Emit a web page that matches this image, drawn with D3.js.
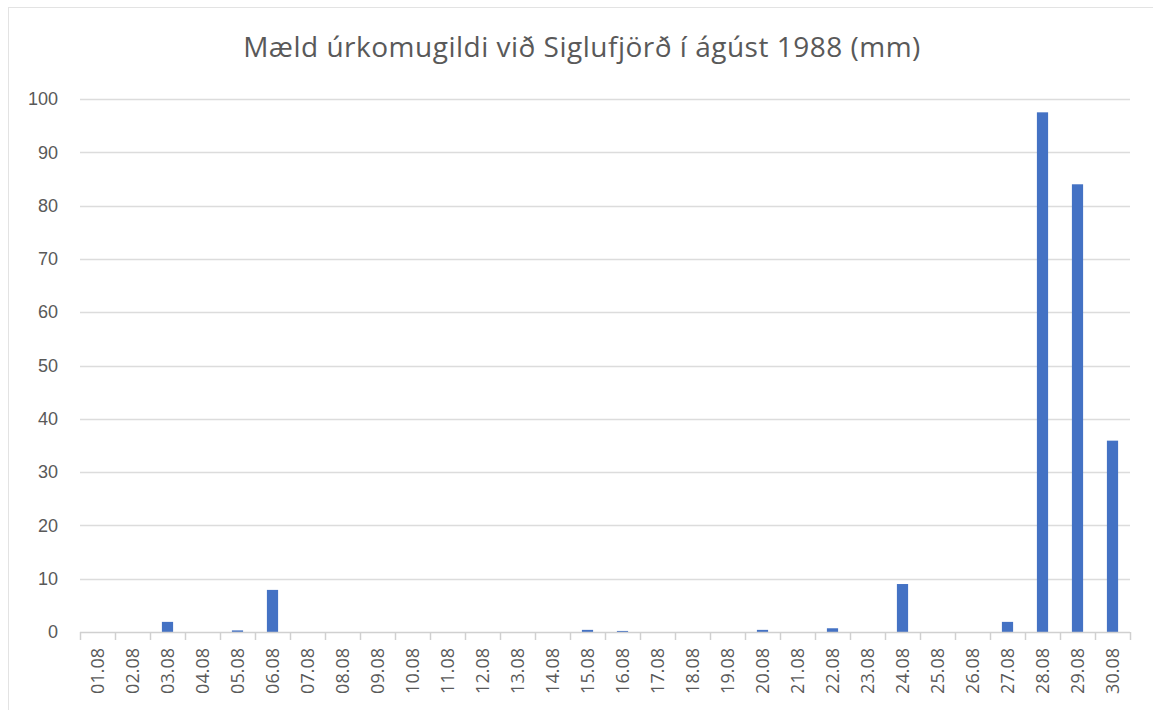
<!DOCTYPE html>
<html>
<head>
<meta charset="utf-8">
<script src="https://cdn.jsdelivr.net/npm/d3@7"></script>
<style>
  body { margin: 0; background: #fff; }
  svg { font-family: "Open Sans", Lato, sans-serif; }
  .axis text { fill: #595959; }
</style>
</head>
<body>
<svg id="chart" width="1153" height="710"></svg>
<script>
// Data
var days = ["01.08","02.08","03.08","04.08","05.08","06.08","07.08","08.08","09.08","10.08",
            "11.08","12.08","13.08","14.08","15.08","16.08","17.08","18.08","19.08","20.08",
            "21.08","22.08","23.08","24.08","25.08","26.08","27.08","28.08","29.08","30.08"];
var rain = [0, 0, 1.9, 0, 0.3, 7.9, 0, 0, 0, 0,
            0, 0, 0, 0, 0.4, 0.2, 0, 0, 0, 0.4,
            0, 0.7, 0, 9.0, 0, 0, 1.9, 97.5, 84.0, 35.9];
var yTicks = [0, 10, 20, 30, 40, 50, 60, 70, 80, 90, 100];
var title = "Mæld úrkomugildi við Siglufjörð í ágúst 1988 (mm)";

var svg = d3.select("#chart"),
    margin = {top: 99, right: 23, bottom: 78, left: 80},
    width = +svg.attr("width") - margin.left - margin.right,
    height = +svg.attr("height") - margin.top - margin.bottom;

// chart frame
svg.append("rect")
    .attr("x", 8.5).attr("y", 7.5)
    .attr("width", 1160).attr("height", 720)
    .attr("fill", "#fff")
    .attr("stroke", "#e3e3e3");

svg.append("text")
    .attr("x", 582).attr("y", 57)
    .attr("text-anchor", "middle")
    .attr("fill", "#595959")
    .style("font-size", "28px")
    .style("letter-spacing", "0.5px")
    .text(title);

var g = svg.append("g").attr("transform", "translate(" + margin.left + "," + margin.top + ")");

var x = d3.scaleBand().domain(days).range([0, width]).paddingInner(0.68).paddingOuter(0.34);
var y = d3.scaleLinear().domain([0, 100]).range([height, 0]);

// gridlines
g.selectAll(".grid")
  .data(yTicks.slice(1))
  .enter().append("line")
    .attr("class", "grid")
    .attr("x1", 0).attr("x2", width)
    .attr("y1", function(d) { return Math.round(y(d)) + 0.5; })
    .attr("y2", function(d) { return Math.round(y(d)) + 0.5; })
    .attr("stroke", "#dcdcdc")
    .attr("stroke-width", 1.5);

// bars
g.selectAll(".bar")
  .data(rain)
  .enter().append("rect")
    .attr("class", "bar")
    .attr("x", function(d, i) { return x(days[i]); })
    .attr("y", function(d) { return y(d); })
    .attr("width", x.bandwidth())
    .attr("height", function(d) { return height - y(d); })
    .attr("fill", "#4472c4");

// y axis
var yAxis = g.append("g")
    .attr("class", "axis")
    .call(d3.axisLeft(y).tickValues(yTicks).tickSize(0).tickPadding(22));
yAxis.select(".domain").remove();
yAxis.selectAll("text").style("font-size", "18px");

// x axis: line + ticks at band edges
var xg = g.append("g")
    .attr("class", "axis")
    .attr("transform", "translate(0," + height + ")");
xg.append("line")
    .attr("x1", 0).attr("x2", width)
    .attr("y1", 0.5).attr("y2", 0.5)
    .attr("stroke", "#d0d0d0").attr("stroke-width", 1.5);
var step = x.step();
xg.selectAll(".tick-line")
  .data(d3.range(days.length + 1))
  .enter().append("line")
    .attr("x1", function(i) { return Math.round(i * step) + 0.5; })
    .attr("x2", function(i) { return Math.round(i * step) + 0.5; })
    .attr("y1", 0).attr("y2", 8)
    .attr("stroke", "#d0d0d0").attr("stroke-width", 1.5);
xg.selectAll(".xlab")
  .data(days)
  .enter().append("text")
    .attr("transform", function(d) { return "translate(" + (x(d) + x.bandwidth() / 2) + ",16) rotate(-90)"; })
    .attr("dy", "0.35em")
    .attr("text-anchor", "end")
    .style("font-size", "18px")
    .text(function(d) { return d; });
</script>
</body>
</html>
